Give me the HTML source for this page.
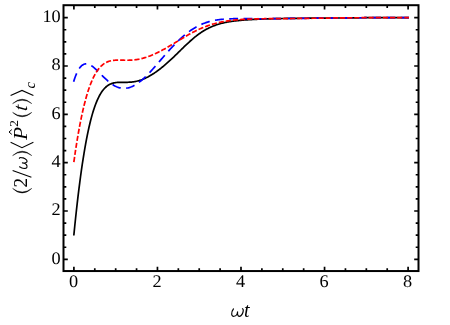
<!DOCTYPE html>
<html><head><meta charset="utf-8"><title>plot</title>
<style>
html,body{margin:0;padding:0;background:#fff;}
body{width:450px;height:325px;overflow:hidden;font-family:"Liberation Serif",serif;}
svg{display:block;will-change:transform;}
.tl text{font-family:"Liberation Serif",serif;font-size:17px;fill:#000;text-rendering:geometricPrecision;}
.m{font-family:"Liberation Serif",serif;font-size:20px;fill:#000;}
.i{font-style:italic;}
</style></head><body>
<svg width="450" height="325" viewBox="0 0 450 325">
<rect x="0" y="0" width="450" height="325" fill="#fff"/>
<g fill="none" stroke-linejoin="round">
<path d="M73.90,234.62 L74.74,226.28 L75.57,218.26 L76.41,210.53 L77.24,203.09 L78.08,195.96 L78.91,189.10 L79.75,182.54 L80.58,176.25 L81.42,170.24 L82.26,164.49 L83.09,159.02 L83.93,153.79 L84.76,148.82 L85.60,144.10 L86.43,139.62 L87.27,135.37 L88.10,131.34 L88.94,127.54 L89.77,123.95 L90.61,120.57 L91.45,117.38 L92.28,114.39 L93.12,111.59 L93.95,108.96 L94.79,106.51 L95.62,104.22 L96.46,102.09 L97.29,100.12 L98.13,98.28 L98.97,96.59 L99.80,95.02 L100.64,93.58 L101.47,92.26 L102.31,91.06 L103.14,89.96 L103.98,88.96 L104.81,88.05 L105.65,87.24 L106.48,86.51 L107.32,85.86 L108.16,85.28 L108.99,84.77 L109.83,84.32 L110.66,83.94 L111.50,83.60 L112.33,83.32 L113.17,83.08 L114.00,82.88 L114.84,82.72 L115.68,82.59 L116.51,82.49 L117.35,82.42 L118.18,82.36 L119.02,82.32 L119.85,82.30 L120.69,82.29 L121.52,82.29 L122.36,82.29 L123.19,82.30 L124.03,82.30 L124.87,82.30 L125.70,82.30 L126.54,82.30 L127.37,82.28 L128.21,82.26 L129.04,82.22 L129.88,82.18 L130.71,82.11 L131.55,82.04 L132.39,81.95 L133.22,81.84 L134.06,81.72 L134.89,81.58 L135.73,81.42 L136.56,81.24 L137.40,81.04 L138.23,80.82 L139.07,80.59 L139.90,80.33 L140.74,80.06 L141.58,79.76 L142.41,79.45 L143.25,79.11 L144.08,78.76 L144.92,78.39 L145.75,78.00 L146.59,77.59 L147.42,77.17 L148.26,76.73 L149.09,76.27 L149.93,75.80 L150.77,75.31 L151.60,74.81 L152.44,74.30 L153.27,73.76 L154.11,73.22 L154.94,72.66 L155.78,72.08 L156.61,71.49 L157.45,70.89 L158.29,70.28 L159.12,69.65 L159.96,69.01 L160.79,68.35 L161.63,67.69 L162.46,67.01 L163.30,66.32 L164.13,65.62 L164.97,64.91 L165.81,64.20 L166.64,63.47 L167.48,62.73 L168.31,61.98 L169.15,61.22 L169.98,60.46 L170.82,59.69 L171.65,58.91 L172.49,58.12 L173.32,57.33 L174.16,56.53 L175.00,55.72 L175.83,54.91 L176.67,54.10 L177.50,53.28 L178.34,52.46 L179.17,51.63 L180.01,50.81 L180.84,49.99 L181.68,49.17 L182.51,48.35 L183.35,47.54 L184.19,46.73 L185.02,45.92 L185.86,45.13 L186.69,44.33 L187.53,43.55 L188.36,42.77 L189.20,42.01 L190.03,41.25 L190.87,40.51 L191.71,39.77 L192.54,39.05 L193.38,38.34 L194.21,37.64 L195.05,36.96 L195.88,36.29 L196.72,35.64 L197.55,35.00 L198.39,34.38 L199.22,33.78 L200.06,33.19 L200.90,32.62 L201.73,32.06 L202.57,31.53 L203.40,31.01 L204.24,30.50 L205.07,30.01 L205.91,29.54 L206.74,29.09 L207.58,28.65 L208.42,28.22 L209.25,27.81 L210.09,27.42 L210.92,27.04 L211.76,26.67 L212.59,26.32 L213.43,25.98 L214.26,25.66 L215.10,25.35 L215.94,25.05 L216.77,24.77 L217.61,24.49 L218.44,24.23 L219.28,23.98 L220.11,23.74 L220.95,23.51 L221.78,23.30 L222.62,23.09 L223.45,22.89 L224.29,22.70 L225.13,22.52 L225.96,22.35 L226.80,22.19 L227.63,22.03 L228.47,21.88 L229.30,21.74 L230.14,21.61 L230.97,21.48 L231.81,21.35 L232.65,21.23 L233.48,21.12 L234.32,21.01 L235.15,20.91 L235.99,20.81 L236.82,20.71 L237.66,20.62 L238.49,20.53 L239.33,20.45 L240.16,20.37 L241.00,20.29 L241.84,20.22 L242.67,20.15 L243.51,20.08 L244.34,20.01 L245.18,19.95 L246.01,19.89 L246.85,19.83 L247.68,19.78 L248.52,19.73 L249.36,19.67 L250.19,19.63 L251.03,19.58 L251.86,19.53 L252.70,19.49 L253.53,19.45 L254.37,19.41 L255.20,19.37 L256.04,19.33 L256.87,19.29 L257.71,19.26 L258.55,19.22 L259.38,19.19 L260.22,19.15 L261.05,19.12 L261.89,19.09 L262.72,19.06 L263.56,19.03 L264.39,19.00 L265.23,18.97 L266.07,18.95 L266.90,18.92 L267.74,18.89 L268.57,18.87 L269.41,18.84 L270.24,18.81 L271.08,18.79 L271.91,18.77 L272.75,18.74 L273.58,18.72 L274.42,18.70 L275.26,18.67 L276.09,18.65 L276.93,18.63 L277.76,18.61 L278.60,18.59 L279.43,18.57 L280.27,18.55 L281.10,18.53 L281.94,18.52 L282.77,18.50 L283.61,18.48 L284.45,18.47 L285.28,18.45 L286.12,18.44 L286.95,18.43 L287.79,18.41 L288.62,18.40 L289.46,18.39 L290.29,18.38 L291.13,18.37 L291.97,18.36 L292.80,18.35 L293.64,18.34 L294.47,18.33 L295.31,18.32 L296.14,18.31 L296.98,18.30 L297.81,18.30 L298.65,18.29 L299.49,18.28 L300.32,18.27 L301.16,18.27 L301.99,18.26 L302.83,18.25 L303.66,18.25 L304.50,18.24 L305.33,18.24 L306.17,18.23 L307.00,18.23 L307.84,18.22 L308.68,18.21 L309.51,18.21 L310.35,18.20 L311.18,18.20 L312.02,18.19 L312.85,18.19 L313.69,18.19 L314.52,18.18 L315.36,18.18 L316.19,18.17 L317.03,18.17 L317.87,18.16 L318.70,18.16 L319.54,18.15 L320.37,18.15 L321.21,18.14 L322.04,18.14 L322.88,18.13 L323.71,18.13 L324.55,18.12 L325.39,18.12 L326.22,18.11 L327.06,18.11 L327.89,18.10 L328.73,18.10 L329.56,18.09 L330.40,18.08 L331.23,18.08 L332.07,18.07 L332.90,18.06 L333.74,18.06 L334.58,18.05 L335.41,18.04 L336.25,18.03 L337.08,18.02 L337.92,18.02 L338.75,18.01 L339.59,18.00 L340.42,17.99 L341.26,17.98 L342.10,17.97 L342.93,17.96 L343.77,17.95 L344.60,17.94 L345.44,17.93 L346.27,17.92 L347.11,17.91 L347.94,17.90 L348.78,17.89 L349.62,17.89 L350.45,17.88 L351.29,17.87 L352.12,17.86 L352.96,17.85 L353.79,17.84 L354.63,17.83 L355.46,17.82 L356.30,17.81 L357.13,17.80 L357.97,17.79 L358.81,17.78 L359.64,17.77 L360.48,17.77 L361.31,17.76 L362.15,17.75 L362.98,17.74 L363.82,17.73 L364.65,17.72 L365.49,17.72 L366.33,17.71 L367.16,17.70 L368.00,17.69 L368.83,17.69 L369.67,17.68 L370.50,17.67 L371.34,17.67 L372.17,17.66 L373.01,17.66 L373.84,17.65 L374.68,17.64 L375.52,17.64 L376.35,17.63 L377.19,17.63 L378.02,17.63 L378.86,17.62 L379.69,17.62 L380.53,17.61 L381.36,17.61 L382.20,17.61 L383.03,17.61 L383.87,17.60 L384.71,17.60 L385.54,17.60 L386.38,17.60 L387.21,17.60 L388.05,17.60 L388.88,17.60 L389.72,17.60 L390.55,17.60 L391.39,17.60 L392.23,17.60 L393.06,17.60 L393.90,17.60 L394.73,17.61 L395.57,17.61 L396.40,17.61 L397.24,17.62 L398.07,17.62 L398.91,17.63 L399.75,17.63 L400.58,17.64 L401.42,17.64 L402.25,17.65 L403.09,17.66 L403.92,17.67 L404.76,17.67 L405.59,17.68 L406.43,17.69 L407.26,17.70 L408.10,17.71" stroke="#000" stroke-width="1.7" stroke-linecap="square"/>
<path d="M73.90,80.88 L74.74,78.32 L75.57,76.02 L76.41,73.95 L77.24,72.11 L78.08,70.48 L78.91,69.06 L79.75,67.83 L80.58,66.79 L81.42,65.92 L82.26,65.22 L83.09,64.67 L83.93,64.27 L84.76,64.00 L85.60,63.86 L86.43,63.83 L87.27,63.92 L88.10,64.10 L88.94,64.38 L89.77,64.75 L90.61,65.19 L91.45,65.70 L92.28,66.27 L93.12,66.90 L93.95,67.58 L94.79,68.29 L95.62,69.05 L96.46,69.83 L97.29,70.64 L98.13,71.47 L98.97,72.30 L99.80,73.15 L100.64,74.00 L101.47,74.85 L102.31,75.69 L103.14,76.53 L103.98,77.35 L104.81,78.16 L105.65,78.96 L106.48,79.73 L107.32,80.48 L108.16,81.21 L108.99,81.91 L109.83,82.57 L110.66,83.21 L111.50,83.82 L112.33,84.39 L113.17,84.93 L114.00,85.42 L114.84,85.89 L115.68,86.31 L116.51,86.69 L117.35,87.04 L118.18,87.34 L119.02,87.60 L119.85,87.83 L120.69,88.01 L121.52,88.15 L122.36,88.25 L123.19,88.31 L124.03,88.33 L124.87,88.31 L125.70,88.25 L126.54,88.15 L127.37,88.01 L128.21,87.83 L129.04,87.61 L129.88,87.36 L130.71,87.07 L131.55,86.74 L132.39,86.38 L133.22,85.99 L134.06,85.55 L134.89,85.09 L135.73,84.59 L136.56,84.07 L137.40,83.51 L138.23,82.92 L139.07,82.31 L139.90,81.66 L140.74,80.99 L141.58,80.30 L142.41,79.58 L143.25,78.84 L144.08,78.07 L144.92,77.29 L145.75,76.49 L146.59,75.66 L147.42,74.82 L148.26,73.97 L149.09,73.09 L149.93,72.21 L150.77,71.31 L151.60,70.39 L152.44,69.47 L153.27,68.54 L154.11,67.60 L154.94,66.65 L155.78,65.70 L156.61,64.74 L157.45,63.77 L158.29,62.81 L159.12,61.84 L159.96,60.86 L160.79,59.89 L161.63,58.92 L162.46,57.95 L163.30,56.98 L164.13,56.02 L164.97,55.06 L165.81,54.10 L166.64,53.15 L167.48,52.21 L168.31,51.27 L169.15,50.34 L169.98,49.42 L170.82,48.50 L171.65,47.60 L172.49,46.70 L173.32,45.82 L174.16,44.94 L175.00,44.08 L175.83,43.23 L176.67,42.39 L177.50,41.56 L178.34,40.75 L179.17,39.95 L180.01,39.16 L180.84,38.39 L181.68,37.63 L182.51,36.89 L183.35,36.16 L184.19,35.45 L185.02,34.75 L185.86,34.07 L186.69,33.40 L187.53,32.75 L188.36,32.12 L189.20,31.50 L190.03,30.90 L190.87,30.32 L191.71,29.75 L192.54,29.20 L193.38,28.67 L194.21,28.15 L195.05,27.65 L195.88,27.17 L196.72,26.70 L197.55,26.25 L198.39,25.82 L199.22,25.40 L200.06,25.00 L200.90,24.62 L201.73,24.25 L202.57,23.89 L203.40,23.56 L204.24,23.24 L205.07,22.93 L205.91,22.64 L206.74,22.36 L207.58,22.09 L208.42,21.84 L209.25,21.60 L210.09,21.37 L210.92,21.16 L211.76,20.96 L212.59,20.77 L213.43,20.59 L214.26,20.42 L215.10,20.26 L215.94,20.12 L216.77,19.98 L217.61,19.85 L218.44,19.73 L219.28,19.62 L220.11,19.52 L220.95,19.42 L221.78,19.34 L222.62,19.26 L223.45,19.18 L224.29,19.12 L225.13,19.06 L225.96,19.00 L226.80,18.95 L227.63,18.91 L228.47,18.87 L229.30,18.83 L230.14,18.80 L230.97,18.78 L231.81,18.75 L232.65,18.73 L233.48,18.71 L234.32,18.70 L235.15,18.69 L235.99,18.68 L236.82,18.67 L237.66,18.66 L238.49,18.66 L239.33,18.65 L240.16,18.65 L241.00,18.65 L241.84,18.65 L242.67,18.65 L243.51,18.65 L244.34,18.66 L245.18,18.66 L246.01,18.67 L246.85,18.67 L247.68,18.68 L248.52,18.68 L249.36,18.69 L250.19,18.69 L251.03,18.70 L251.86,18.70 L252.70,18.71 L253.53,18.71 L254.37,18.72 L255.20,18.72 L256.04,18.73 L256.87,18.73 L257.71,18.73 L258.55,18.73 L259.38,18.74 L260.22,18.74 L261.05,18.74 L261.89,18.74 L262.72,18.74 L263.56,18.74 L264.39,18.73 L265.23,18.73 L266.07,18.73 L266.90,18.72 L267.74,18.72 L268.57,18.71 L269.41,18.71 L270.24,18.70 L271.08,18.70 L271.91,18.69 L272.75,18.68 L273.58,18.67 L274.42,18.66 L275.26,18.65 L276.09,18.64 L276.93,18.64 L277.76,18.62 L278.60,18.61 L279.43,18.60 L280.27,18.59 L281.10,18.58 L281.94,18.57 L282.77,18.56 L283.61,18.55 L284.45,18.54 L285.28,18.53 L286.12,18.52 L286.95,18.51 L287.79,18.50 L288.62,18.49 L289.46,18.48 L290.29,18.47 L291.13,18.46 L291.97,18.44 L292.80,18.43 L293.64,18.42 L294.47,18.41 L295.31,18.40 L296.14,18.39 L296.98,18.38 L297.81,18.37 L298.65,18.36 L299.49,18.35 L300.32,18.34 L301.16,18.34 L301.99,18.33 L302.83,18.32 L303.66,18.31 L304.50,18.30 L305.33,18.29 L306.17,18.28 L307.00,18.27 L307.84,18.26 L308.68,18.25 L309.51,18.24 L310.35,18.24 L311.18,18.23 L312.02,18.22 L312.85,18.21 L313.69,18.20 L314.52,18.19 L315.36,18.19 L316.19,18.18 L317.03,18.17 L317.87,18.16 L318.70,18.16 L319.54,18.15 L320.37,18.14 L321.21,18.13 L322.04,18.13 L322.88,18.12 L323.71,18.11 L324.55,18.10 L325.39,18.10 L326.22,18.09 L327.06,18.08 L327.89,18.08 L328.73,18.07 L329.56,18.06 L330.40,18.05 L331.23,18.05 L332.07,18.04 L332.90,18.03 L333.74,18.02 L334.58,18.01 L335.41,18.01 L336.25,18.00 L337.08,17.99 L337.92,17.98 L338.75,17.97 L339.59,17.96 L340.42,17.95 L341.26,17.95 L342.10,17.94 L342.93,17.93 L343.77,17.92 L344.60,17.91 L345.44,17.90 L346.27,17.89 L347.11,17.88 L347.94,17.88 L348.78,17.87 L349.62,17.86 L350.45,17.85 L351.29,17.84 L352.12,17.83 L352.96,17.83 L353.79,17.82 L354.63,17.81 L355.46,17.80 L356.30,17.79 L357.13,17.79 L357.97,17.78 L358.81,17.77 L359.64,17.76 L360.48,17.76 L361.31,17.75 L362.15,17.74 L362.98,17.74 L363.82,17.73 L364.65,17.72 L365.49,17.72 L366.33,17.71 L367.16,17.70 L368.00,17.70 L368.83,17.69 L369.67,17.69 L370.50,17.68 L371.34,17.68 L372.17,17.67 L373.01,17.67 L373.84,17.66 L374.68,17.66 L375.52,17.65 L376.35,17.65 L377.19,17.65 L378.02,17.64 L378.86,17.64 L379.69,17.64 L380.53,17.63 L381.36,17.63 L382.20,17.63 L383.03,17.63 L383.87,17.62 L384.71,17.62 L385.54,17.62 L386.38,17.62 L387.21,17.62 L388.05,17.62 L388.88,17.62 L389.72,17.62 L390.55,17.62 L391.39,17.62 L392.23,17.62 L393.06,17.62 L393.90,17.62 L394.73,17.62 L395.57,17.62 L396.40,17.63 L397.24,17.63 L398.07,17.63 L398.91,17.63 L399.75,17.64 L400.58,17.64 L401.42,17.65 L402.25,17.65 L403.09,17.66 L403.92,17.66 L404.76,17.67 L405.59,17.67 L406.43,17.68 L407.26,17.69 L408.10,17.69" stroke="#0000ff" stroke-width="1.7" stroke-linecap="square" stroke-dasharray="7.2 7.09"/>
<path d="M73.90,161.72 L74.74,155.85 L75.57,150.21 L76.41,144.82 L77.24,139.65 L78.08,134.72 L78.91,130.00 L79.75,125.50 L80.58,121.21 L81.42,117.12 L82.26,113.23 L83.09,109.53 L83.93,106.02 L84.76,102.68 L85.60,99.53 L86.43,96.54 L87.27,93.72 L88.10,91.06 L88.94,88.54 L89.77,86.18 L90.61,83.96 L91.45,81.88 L92.28,79.93 L93.12,78.10 L93.95,76.40 L94.79,74.81 L95.62,73.34 L96.46,71.97 L97.29,70.71 L98.13,69.54 L98.97,68.47 L99.80,67.49 L100.64,66.59 L101.47,65.77 L102.31,65.03 L103.14,64.35 L103.98,63.75 L104.81,63.21 L105.65,62.72 L106.48,62.29 L107.32,61.91 L108.16,61.58 L108.99,61.30 L109.83,61.05 L110.66,60.84 L111.50,60.66 L112.33,60.52 L113.17,60.40 L114.00,60.31 L114.84,60.24 L115.68,60.19 L116.51,60.15 L117.35,60.13 L118.18,60.12 L119.02,60.12 L119.85,60.13 L120.69,60.15 L121.52,60.17 L122.36,60.19 L123.19,60.21 L124.03,60.22 L124.87,60.24 L125.70,60.25 L126.54,60.25 L127.37,60.25 L128.21,60.24 L129.04,60.22 L129.88,60.20 L130.71,60.16 L131.55,60.11 L132.39,60.05 L133.22,59.98 L134.06,59.90 L134.89,59.81 L135.73,59.70 L136.56,59.58 L137.40,59.45 L138.23,59.30 L139.07,59.14 L139.90,58.97 L140.74,58.78 L141.58,58.59 L142.41,58.37 L143.25,58.15 L144.08,57.91 L144.92,57.66 L145.75,57.40 L146.59,57.13 L147.42,56.84 L148.26,56.55 L149.09,56.24 L149.93,55.92 L150.77,55.60 L151.60,55.26 L152.44,54.91 L153.27,54.56 L154.11,54.19 L154.94,53.82 L155.78,53.43 L156.61,53.04 L157.45,52.64 L158.29,52.23 L159.12,51.81 L159.96,51.39 L160.79,50.96 L161.63,50.52 L162.46,50.07 L163.30,49.62 L164.13,49.17 L164.97,48.70 L165.81,48.24 L166.64,47.76 L167.48,47.28 L168.31,46.80 L169.15,46.32 L169.98,45.83 L170.82,45.33 L171.65,44.84 L172.49,44.34 L173.32,43.84 L174.16,43.33 L175.00,42.82 L175.83,42.32 L176.67,41.81 L177.50,41.30 L178.34,40.79 L179.17,40.28 L180.01,39.77 L180.84,39.26 L181.68,38.76 L182.51,38.25 L183.35,37.75 L184.19,37.25 L185.02,36.76 L185.86,36.27 L186.69,35.78 L187.53,35.30 L188.36,34.83 L189.20,34.35 L190.03,33.89 L190.87,33.43 L191.71,32.97 L192.54,32.53 L193.38,32.09 L194.21,31.65 L195.05,31.23 L195.88,30.81 L196.72,30.40 L197.55,30.00 L198.39,29.60 L199.22,29.21 L200.06,28.84 L200.90,28.47 L201.73,28.11 L202.57,27.76 L203.40,27.41 L204.24,27.08 L205.07,26.75 L205.91,26.44 L206.74,26.13 L207.58,25.83 L208.42,25.53 L209.25,25.25 L210.09,24.98 L210.92,24.71 L211.76,24.45 L212.59,24.20 L213.43,23.96 L214.26,23.72 L215.10,23.49 L215.94,23.27 L216.77,23.06 L217.61,22.86 L218.44,22.66 L219.28,22.47 L220.11,22.29 L220.95,22.11 L221.78,21.94 L222.62,21.78 L223.45,21.62 L224.29,21.47 L225.13,21.32 L225.96,21.18 L226.80,21.05 L227.63,20.92 L228.47,20.80 L229.30,20.68 L230.14,20.57 L230.97,20.46 L231.81,20.36 L232.65,20.26 L233.48,20.17 L234.32,20.08 L235.15,19.99 L235.99,19.91 L236.82,19.84 L237.66,19.76 L238.49,19.69 L239.33,19.63 L240.16,19.56 L241.00,19.50 L241.84,19.45 L242.67,19.39 L243.51,19.34 L244.34,19.29 L245.18,19.25 L246.01,19.21 L246.85,19.17 L247.68,19.13 L248.52,19.09 L249.36,19.06 L250.19,19.03 L251.03,19.00 L251.86,18.97 L252.70,18.95 L253.53,18.92 L254.37,18.90 L255.20,18.88 L256.04,18.86 L256.87,18.84 L257.71,18.82 L258.55,18.81 L259.38,18.79 L260.22,18.78 L261.05,18.77 L261.89,18.75 L262.72,18.74 L263.56,18.73 L264.39,18.72 L265.23,18.71 L266.07,18.71 L266.90,18.70 L267.74,18.69 L268.57,18.68 L269.41,18.68 L270.24,18.67 L271.08,18.66 L271.91,18.66 L272.75,18.65 L273.58,18.65 L274.42,18.64 L275.26,18.64 L276.09,18.63 L276.93,18.63 L277.76,18.62 L278.60,18.62 L279.43,18.61 L280.27,18.60 L281.10,18.60 L281.94,18.59 L282.77,18.59 L283.61,18.58 L284.45,18.58 L285.28,18.57 L286.12,18.57 L286.95,18.56 L287.79,18.55 L288.62,18.55 L289.46,18.54 L290.29,18.53 L291.13,18.53 L291.97,18.52 L292.80,18.51 L293.64,18.50 L294.47,18.50 L295.31,18.49 L296.14,18.48 L296.98,18.47 L297.81,18.46 L298.65,18.45 L299.49,18.44 L300.32,18.43 L301.16,18.42 L301.99,18.41 L302.83,18.40 L303.66,18.39 L304.50,18.38 L305.33,18.37 L306.17,18.36 L307.00,18.35 L307.84,18.34 L308.68,18.33 L309.51,18.32 L310.35,18.31 L311.18,18.29 L312.02,18.28 L312.85,18.27 L313.69,18.26 L314.52,18.25 L315.36,18.23 L316.19,18.22 L317.03,18.21 L317.87,18.20 L318.70,18.19 L319.54,18.17 L320.37,18.16 L321.21,18.15 L322.04,18.14 L322.88,18.12 L323.71,18.11 L324.55,18.10 L325.39,18.09 L326.22,18.08 L327.06,18.07 L327.89,18.05 L328.73,18.04 L329.56,18.03 L330.40,18.02 L331.23,18.01 L332.07,18.00 L332.90,17.99 L333.74,17.98 L334.58,17.96 L335.41,17.95 L336.25,17.94 L337.08,17.93 L337.92,17.92 L338.75,17.91 L339.59,17.90 L340.42,17.90 L341.26,17.89 L342.10,17.88 L342.93,17.87 L343.77,17.86 L344.60,17.85 L345.44,17.84 L346.27,17.84 L347.11,17.83 L347.94,17.82 L348.78,17.81 L349.62,17.81 L350.45,17.80 L351.29,17.79 L352.12,17.78 L352.96,17.78 L353.79,17.77 L354.63,17.77 L355.46,17.76 L356.30,17.76 L357.13,17.75 L357.97,17.74 L358.81,17.74 L359.64,17.73 L360.48,17.73 L361.31,17.73 L362.15,17.72 L362.98,17.72 L363.82,17.71 L364.65,17.71 L365.49,17.71 L366.33,17.70 L367.16,17.70 L368.00,17.70 L368.83,17.69 L369.67,17.69 L370.50,17.69 L371.34,17.69 L372.17,17.68 L373.01,17.68 L373.84,17.68 L374.68,17.68 L375.52,17.68 L376.35,17.67 L377.19,17.67 L378.02,17.67 L378.86,17.67 L379.69,17.67 L380.53,17.67 L381.36,17.67 L382.20,17.67 L383.03,17.66 L383.87,17.66 L384.71,17.66 L385.54,17.66 L386.38,17.66 L387.21,17.66 L388.05,17.66 L388.88,17.66 L389.72,17.66 L390.55,17.66 L391.39,17.66 L392.23,17.66 L393.06,17.66 L393.90,17.66 L394.73,17.66 L395.57,17.66 L396.40,17.66 L397.24,17.66 L398.07,17.66 L398.91,17.66 L399.75,17.66 L400.58,17.65 L401.42,17.65 L402.25,17.65 L403.09,17.65 L403.92,17.65 L404.76,17.65 L405.59,17.65 L406.43,17.65 L407.26,17.65 L408.10,17.65" stroke="#ff0000" stroke-width="1.7" stroke-linecap="square" stroke-dasharray="3.45 3.695" stroke-dashoffset="-0.5"/>
</g>
<path d="M73.90,271.05 v-4.3 M73.90,5.2 v4.3 M94.79,271.05 v-2.8 M94.79,5.2 v2.8 M115.68,271.05 v-2.8 M115.68,5.2 v2.8 M136.56,271.05 v-2.8 M136.56,5.2 v2.8 M157.45,271.05 v-4.3 M157.45,5.2 v4.3 M178.34,271.05 v-2.8 M178.34,5.2 v2.8 M199.22,271.05 v-2.8 M199.22,5.2 v2.8 M220.11,271.05 v-2.8 M220.11,5.2 v2.8 M241.00,271.05 v-4.3 M241.00,5.2 v4.3 M261.89,271.05 v-2.8 M261.89,5.2 v2.8 M282.77,271.05 v-2.8 M282.77,5.2 v2.8 M303.66,271.05 v-2.8 M303.66,5.2 v2.8 M324.55,271.05 v-4.3 M324.55,5.2 v4.3 M345.44,271.05 v-2.8 M345.44,5.2 v2.8 M366.33,271.05 v-2.8 M366.33,5.2 v2.8 M387.21,271.05 v-2.8 M387.21,5.2 v2.8 M408.10,271.05 v-4.3 M408.10,5.2 v4.3 M63.5,259.35 h4.3 M418.5,259.35 h-4.3 M63.5,247.27 h2.8 M418.5,247.27 h-2.8 M63.5,235.18 h2.8 M418.5,235.18 h-2.8 M63.5,223.10 h2.8 M418.5,223.10 h-2.8 M63.5,211.01 h4.3 M418.5,211.01 h-4.3 M63.5,198.93 h2.8 M418.5,198.93 h-2.8 M63.5,186.84 h2.8 M418.5,186.84 h-2.8 M63.5,174.76 h2.8 M418.5,174.76 h-2.8 M63.5,162.67 h4.3 M418.5,162.67 h-4.3 M63.5,150.59 h2.8 M418.5,150.59 h-2.8 M63.5,138.50 h2.8 M418.5,138.50 h-2.8 M63.5,126.42 h2.8 M418.5,126.42 h-2.8 M63.5,114.33 h4.3 M418.5,114.33 h-4.3 M63.5,102.25 h2.8 M418.5,102.25 h-2.8 M63.5,90.16 h2.8 M418.5,90.16 h-2.8 M63.5,78.08 h2.8 M418.5,78.08 h-2.8 M63.5,65.99 h4.3 M418.5,65.99 h-4.3 M63.5,53.91 h2.8 M418.5,53.91 h-2.8 M63.5,41.82 h2.8 M418.5,41.82 h-2.8 M63.5,29.74 h2.8 M418.5,29.74 h-2.8 M63.5,17.65 h4.3 M418.5,17.65 h-4.3" stroke="#000" stroke-width="1.7" fill="none"/>
<rect x="63.5" y="5.2" width="355.0" height="265.85" fill="none" stroke="#000" stroke-width="2"/>
<g class="tl"><text transform="translate(60.7,263.65) scale(1.07635,1.045)" text-anchor="end">0</text><text transform="translate(60.7,215.31) scale(1.07635,1.045)" text-anchor="end">2</text><text transform="translate(60.7,166.97) scale(1.07635,1.045)" text-anchor="end">4</text><text transform="translate(60.7,118.63) scale(1.07635,1.045)" text-anchor="end">6</text><text transform="translate(60.7,70.29) scale(1.07635,1.045)" text-anchor="end">8</text><text transform="translate(60.7,21.95) scale(1.07635,1.045)" text-anchor="end">10</text><text transform="translate(73.45,286.8) scale(1.07635,1.045)" text-anchor="middle">0</text><text transform="translate(157.00,286.8) scale(1.07635,1.045)" text-anchor="middle">2</text><text transform="translate(240.55,286.8) scale(1.07635,1.045)" text-anchor="middle">4</text><text transform="translate(324.10,286.8) scale(1.07635,1.045)" text-anchor="middle">6</text><text transform="translate(407.65,286.8) scale(1.07635,1.045)" text-anchor="middle">8</text></g>
<!--XLABEL-->
<g class="m"><path transform="translate(231.5,316.4) scale(0.98,0.9)" d="M 2.0,-8.4 C 0.6,-6.4 0,-3.9 0.2,-2.4 C 0.4,-0.4 1.6,0.1 2.6,-0.1 C 4.6,-0.4 6.0,-2.9 6.2,-5.2 C 6.0,-2.9 6.2,0 8.0,0 C 10.1,0 11.9,-3.9 12.0,-6.4 C 12.1,-7.6 11.8,-8.4 11.2,-8.6" fill="none" stroke="#000" stroke-width="1.2" stroke-linecap="round" stroke-linejoin="round"/><text x="243.9" y="317" class="i">t</text></g>
<!--YLABEL-->
<g class="m" transform="translate(27.2,193) rotate(-90)">
<path d="M4.6,-14.6 Q-4.6,-5.0 4.6,4.6 Q-2.4999999999999996,-5.0 4.6,-14.6Z" fill="#000" stroke="#000" stroke-width="0.4" stroke-linejoin="round"/>
<text x="5.6" y="0" font-size="19.3">2</text>
<line x1="15.8" y1="4.2" x2="22.6" y2="-14.6" stroke="#000" stroke-width="1.1"/>
<path transform="translate(24.4,-0.1) scale(0.92,0.9)" d="M 2.0,-8.4 C 0.6,-6.4 0,-3.9 0.2,-2.4 C 0.4,-0.4 1.6,0.1 2.6,-0.1 C 4.6,-0.4 6.0,-2.9 6.2,-5.2 C 6.0,-2.9 6.2,0 8.0,0 C 10.1,0 11.9,-3.9 12.0,-6.4 C 12.1,-7.6 11.8,-8.4 11.2,-8.6" fill="none" stroke="#000" stroke-width="1.25" stroke-linecap="round" stroke-linejoin="round"/>
<path d="M37.4,-14.6 Q46.2,-5.0 37.4,4.6 Q44.1,-5.0 37.4,-14.6Z" fill="#000" stroke="#000" stroke-width="0.4" stroke-linejoin="round"/>
<polyline points="50.8,-16.6 45.4,-5.2 50.8,6.2" fill="none" stroke="#000" stroke-width="1.05"/>
<text transform="translate(53.1,0) scale(1.1,1)" x="0" y="0" class="i" font-size="19.6">P</text>
<polyline points="58.6,-15.4 61,-18.2 63.4,-15.4" fill="none" stroke="#000" stroke-width="1"/>
<text x="66.3" y="-8.8" font-size="13.4">2</text>
<path d="M80.60000000000001,-14.6 Q71.8,-5.0 80.60000000000001,4.6 Q73.89999999999999,-5.0 80.60000000000001,-14.6Z" fill="#000" stroke="#000" stroke-width="0.4" stroke-linejoin="round"/>
<text transform="translate(81.8,0) skewX(-6)" x="0" y="0" class="i" font-size="20">t</text>
<path d="M89.4,-14.6 Q98.2,-5.0 89.4,4.6 Q96.10000000000001,-5.0 89.4,-14.6Z" fill="#000" stroke="#000" stroke-width="0.4" stroke-linejoin="round"/>
<polyline points="97.4,-16.6 102.6,-5.2 97.4,6.2" fill="none" stroke="#000" stroke-width="1.05"/>
<text x="104.4" y="7.8" class="i" font-size="14.5">c</text>
</g>
</svg>
</body></html>
